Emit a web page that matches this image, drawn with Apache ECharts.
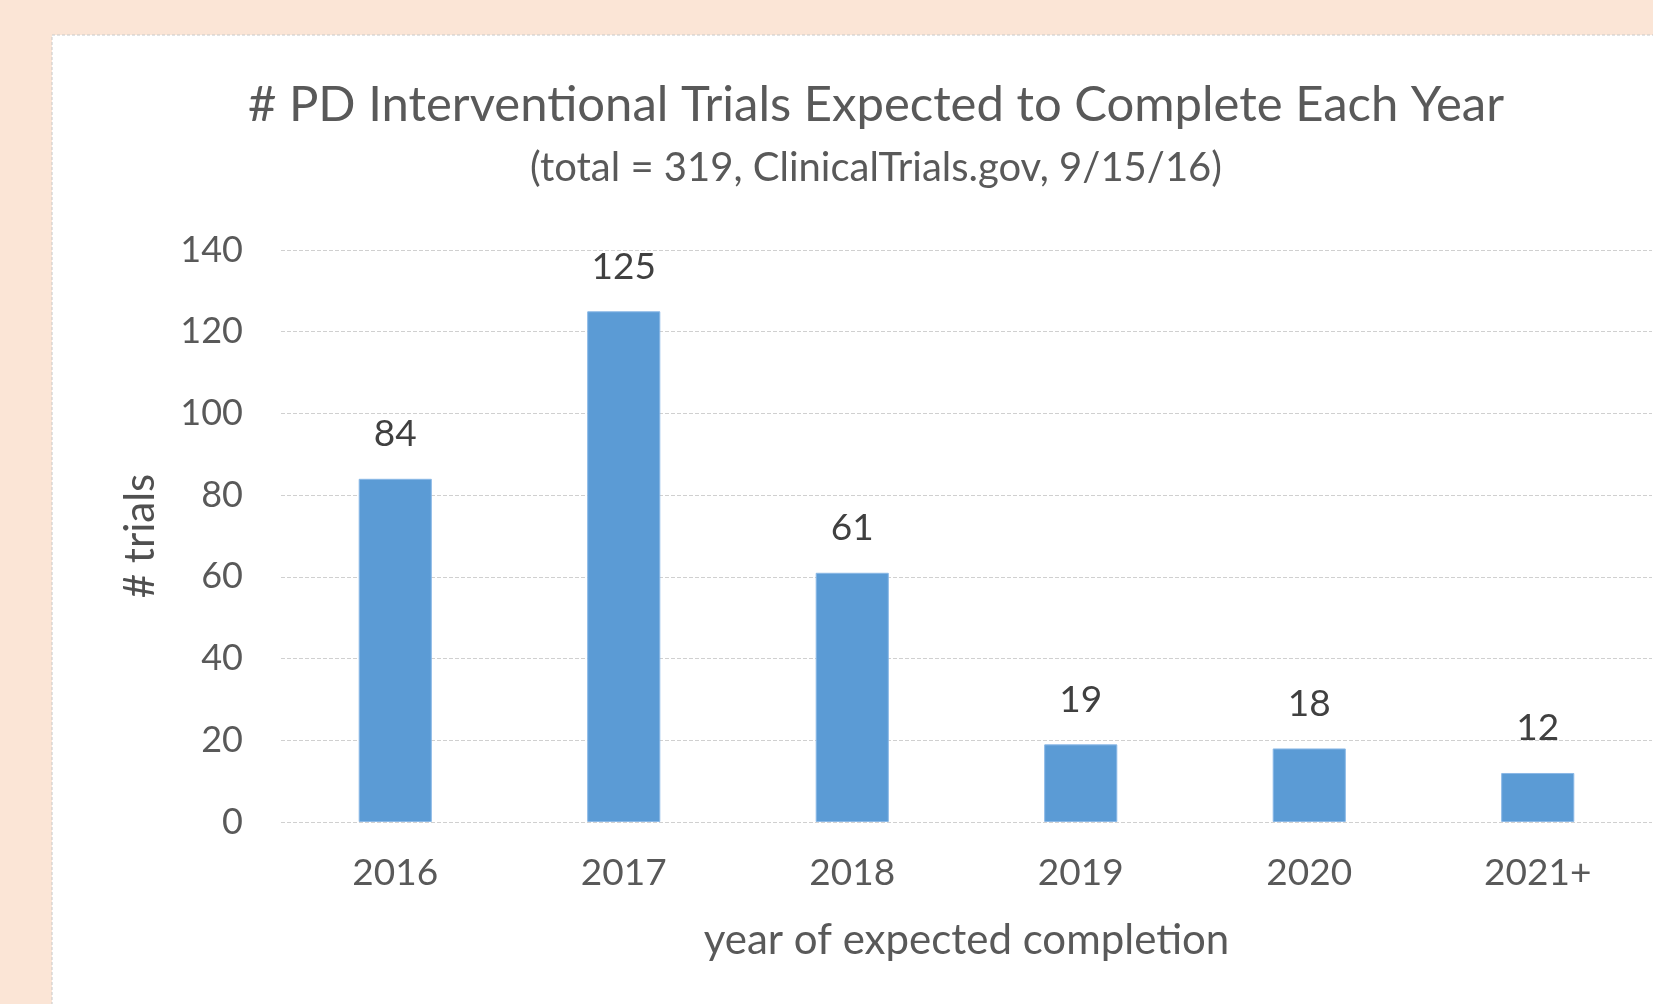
<!DOCTYPE html>
<html>
<head>
<meta charset="utf-8">
<script src="https://cdn.jsdelivr.net/npm/echarts@6/dist/echarts.min.js"></script>
<style>
  html, body { margin: 0; padding: 0; background: #fbe5d6; }
  #chart { width: 1653px; height: 1004px; }
</style>
</head>
<body>
<div id="chart"></div>
<script>
// data
const years = ['2016', '2017', '2018', '2019', '2020', '2021+'];
const trials = [84, 125, 61, 19, 18, 12];
const yTicks = { min: 0, max: 140, interval: 20 };

const FONT = 'Lato';
const TEXT = '#595959';
const GRIDLINE = { color: '#d0d0d0', type: 'dashed', width: 1 };

const chart = echarts.init(document.getElementById('chart'), null, { renderer: 'canvas' });

chart.setOption({
  animation: false,
  backgroundColor: '#fbe5d6',
  graphic: [
    {
      type: 'rect',
      shape: { x: 52, y: 35, width: 1700, height: 1100 },
      style: { fill: '#ffffff', stroke: '#c8c8c8', lineWidth: 1, lineDash: [3, 2] },
      z: -10
    }
  ],
  title: {
    text: '# PD Interventional Trials Expected to Complete Each Year',
    subtext: '(total = 319, ClinicalTrials.gov, 9/15/16)',
    left: 876,
    top: 81,
    textAlign: 'center',
    padding: 0,
    itemGap: 19,
    textStyle: { fontFamily: FONT, fontSize: 49, fontWeight: 'normal', color: TEXT, lineHeight: 48 },
    subtextStyle: { fontFamily: FONT, fontSize: 40, color: TEXT, lineHeight: 38 }
  },
  grid: { left: 281, right: 1, top: 250, bottom: 182, outerBoundsMode: 'none' },
  xAxis: {
    type: 'category',
    data: years,
    name: 'year of expected completion',
    nameLocation: 'middle',
    nameGap: 97,
    nameTextStyle: { fontFamily: FONT, fontSize: 42, color: TEXT },
    axisLine: { show: false },
    axisTick: { show: false },
    axisLabel: { fontFamily: FONT, fontSize: 37, color: TEXT, margin: 33 }
  },
  yAxis: {
    type: 'value',
    min: yTicks.min,
    max: yTicks.max,
    interval: yTicks.interval,
    name: '# trials',
    nameLocation: 'middle',
    nameGap: 120,
    nameTextStyle: { fontFamily: FONT, fontSize: 42, color: '#505050' },
    axisLine: { show: false },
    axisTick: { show: false },
    axisLabel: { fontFamily: FONT, fontSize: 36, color: TEXT, margin: 38 },
    splitLine: { lineStyle: GRIDLINE }
  },
  series: [
    {
      type: 'bar',
      data: trials,
      barWidth: '32%',
      itemStyle: { color: '#5b9bd5', borderColor: '#8ab8e6', borderWidth: 1 },
      label: {
        show: true,
        position: 'top',
        distance: 26,
        fontFamily: FONT,
        fontSize: 37,
        color: '#404040'
      }
    }
  ]
});
</script>
</body>
</html>
